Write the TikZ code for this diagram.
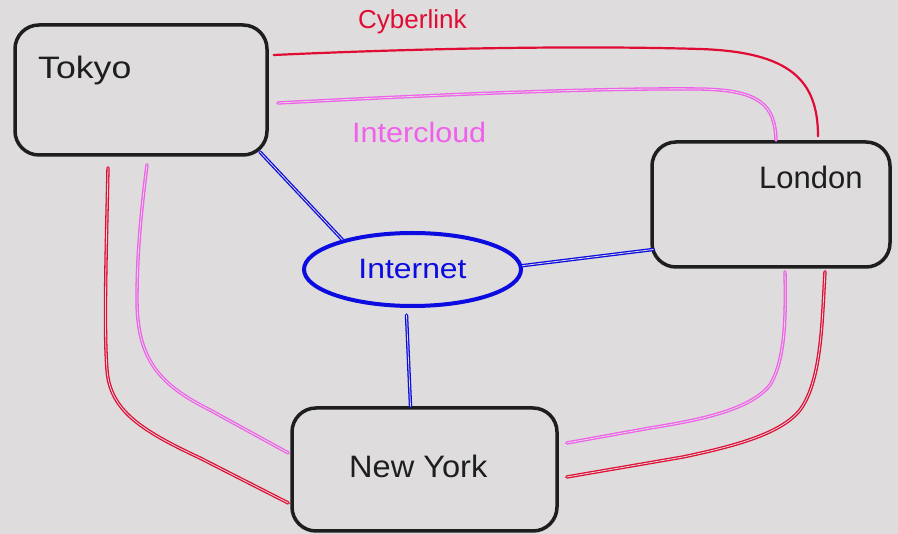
\documentclass[tikz,border=0pt]{standalone}
\usepackage{fontspec}
\setmainfont{Liberation Sans}
\usetikzlibrary{shapes.geometric,calc}
\definecolor{bgc}{RGB}{222,220,221}
\definecolor{inkc}{RGB}{30,30,30}
\definecolor{redc}{RGB}{225,12,52}
\definecolor{magc}{RGB}{240,96,234}
\definecolor{bluec}{RGB}{12,12,225}
\tikzset{
  city/.style={draw=inkc, line width=3.5pt, rounded corners=24pt, inner sep=0pt},
  citytext/.style={text=inkc, anchor=base west, inner sep=0pt, font=\fontsize{31}{36}\selectfont},
  wire/.style={line width=1.3pt, double=bgc, double distance=0.8pt, line cap=round},
  wiresingle/.style={line width=2.2pt, line cap=round},
}
\begin{document}
\begin{tikzpicture}[x=1pt,y=-1pt]
\useasboundingbox (0,0) rectangle (898,534);
\fill[bgc] (0,0) rectangle (898,534);

% boxes
\node[city, minimum width=252pt, minimum height=130pt] (tokyo) at (141,90) {};
\node[city, minimum width=238pt, minimum height=125pt] (london) at (771,204.5) {};
\node[city, minimum width=265pt, minimum height=123pt] (newyork) at (424.5,469.5) {};
\node[draw=bluec, ellipse, line width=4pt, minimum width=217pt, minimum height=73pt, inner sep=0pt,
      text=bluec, font=\fontsize{28}{32}\selectfont] (internet) at (412.5,269.5) {\scalebox{1.14}[1]{Internet}};

% labels
\node[citytext] (tokyoT) at (38,79) {\scalebox{1.15}[1]{Tokyo}};
\node[citytext] (londonT) at (759,189) {London};
\node[citytext] (nyT) at (349,478) {\scalebox{1.05}[1]{New York}};
\node[anchor=base west, inner sep=0pt, text=redc, font=\fontsize{26}{30}\selectfont] (cyber) at (358,29) {Cyberlink};
\node[anchor=base west, inner sep=0pt, text=magc, font=\fontsize{28}{32}\selectfont] (inter) at (352,143) {\scalebox{1.09}[1]{Intercloud}};

% Cyberlink (red) Tokyo - London
\draw[redc, wiresingle] ([shift={(5,-35)}]tokyo.east)
  .. controls (450,47) and (600,46) .. (700,49)
  .. controls (790,52) and (818,80) .. ([shift={(47,-4)}]london.north);
% Intercloud (magenta) Tokyo - London
\draw[magc, wire] ([shift={(9,13)}]tokyo.east)
  .. controls (450,94) and (600,88) .. (700,89)
  .. controls (760,90) and (775,105) .. ([xshift=5]london.north);

% Cyberlink Tokyo - New York
\draw[redc, wire] ([shift={(-33,11)}]tokyo.south)
  .. controls (106,260) and (104,330) .. (107,370)
  .. controls (110,410) and (140,430) .. (200,458)
  -- ([shift={(-2,33.5)}]newyork.west);
% Intercloud Tokyo - New York
\draw[magc, wire] ([shift={(6,8)}]tokyo.south)
  .. controls (140,220) and (137,260) .. (137,300)
  .. controls (137,360) and (160,385) .. (210,410)
  -- ([shift={(-2,-16.5)}]newyork.west);

% Intercloud London - New York
\draw[magc, wire] ([shift={(14,3)}]london.south)
  .. controls (786,320) and (785,360) .. (770,385)
  .. controls (750,410) and (700,420) .. (650,428)
  -- ([shift={(8,-26.5)}]newyork.east);
% Cyberlink London - New York
\draw[redc, wire] ([shift={(54,3)}]london.south)
  .. controls (822,320) and (822,380) .. (800,410)
  .. controls (780,435) and (730,447) .. (683,457)
  -- ([shift={(8,7.5)}]newyork.east);

% Internet links
\draw[bluec, wire] ([shift={(-9,-5)}]tokyo.south east) -- (internet.157);
\draw[bluec, wire] (internet.2) -- ([shift={(3,45)}]london.west);
\draw[bluec, wire] ([shift={(-6,7)}]internet.south) -- ([xshift=-14]newyork.north);
\end{tikzpicture}
\end{document}
